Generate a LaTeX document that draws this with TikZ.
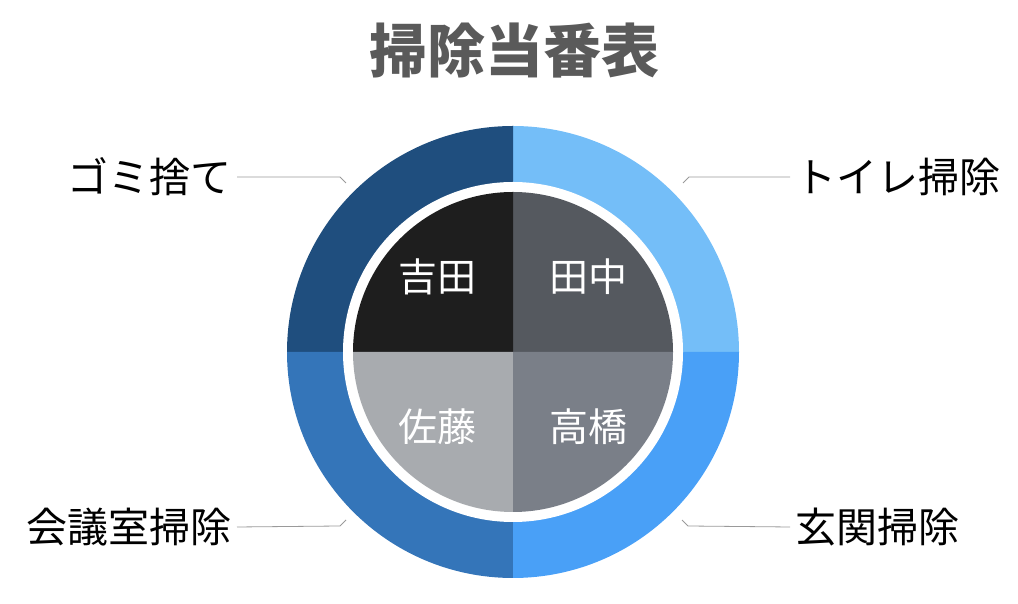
\documentclass[tikz,border=0pt]{standalone}
\usepackage{fontspec}
\setmainfont{Noto Sans CJK JP}
\definecolor{ringTL}{HTML}{1F4E7E}
\definecolor{ringTR}{HTML}{74BEF8}
\definecolor{ringBR}{HTML}{49A0F7}
\definecolor{ringBL}{HTML}{3475B9}
\definecolor{inTL}{HTML}{1E1E1E}
\definecolor{inTR}{HTML}{55595F}
\definecolor{inBR}{HTML}{7A7F88}
\definecolor{inBL}{HTML}{A8ABAF}
\definecolor{titlegray}{HTML}{5A5A5A}
\definecolor{leadgray}{HTML}{9A9A9A}
\begin{document}
\begin{tikzpicture}[x=1pt,y=1pt,
  lbl/.style={font=\fontsize{41}{41}\selectfont, inner sep=0pt, text=black},
  person/.style={font=\fontsize{39}{39}\selectfont, text=white, inner sep=0pt},
  leader/.style={draw=leadgray, line width=0.8pt}]
\useasboundingbox (0,0) rectangle (1018,604);
\coordinate (O) at (513,252);
% outer ring quadrants
\fill[ringTR] (O) -- ++(0:226) arc[start angle=0,end angle=90,radius=226] -- cycle;
\fill[ringTL] (O) -- ++(90:226) arc[start angle=90,end angle=180,radius=226] -- cycle;
\fill[ringBL] (O) -- ++(180:226) arc[start angle=180,end angle=270,radius=226] -- cycle;
\fill[ringBR] (O) -- ++(270:226) arc[start angle=270,end angle=360,radius=226] -- cycle;
\fill[white] (O) circle[radius=170];
% inner quadrants
\fill[inTR] (O) -- ++(0:160) arc[start angle=0,end angle=90,radius=160] -- cycle;
\fill[inTL] (O) -- ++(90:160) arc[start angle=90,end angle=180,radius=160] -- cycle;
\fill[inBL] (O) -- ++(180:160) arc[start angle=180,end angle=270,radius=160] -- cycle;
\fill[inBR] (O) -- ++(270:160) arc[start angle=270,end angle=360,radius=160] -- cycle;
% names
\node[person] (yoshida) at (437.5,327) {吉田};
\node[person] (tanaka) at (588.5,327) {田中};
\node[person] (sato) at (437.5,177) {佐藤};
\node[person] (takahashi) at (588.5,177) {高橋};
% title
\node[font=\fontsize{58}{58}\selectfont\bfseries, text=titlegray, inner sep=0pt] (title) at (514,553) {掃除当番表};
% labels
\node[lbl, anchor=east] (gomi) at (232,427) {ゴミ捨て};
\node[lbl, anchor=west] (toilet) at (795,427) {トイレ掃除};
\node[lbl, anchor=east] (kaigi) at (232,77) {会議室掃除};
\node[lbl, anchor=west] (genkan) at (795,77) {玄関掃除};
% leader lines
\coordinate (gomiB) at (340,427);
\coordinate (gomiE) at (346,421);
\coordinate (toiletB) at (689,427);
\coordinate (toiletE) at (683,421);
\coordinate (kaigiB) at (340,78);
\coordinate (kaigiE) at (346,84);
\coordinate (genkanB) at (688,78);
\coordinate (genkanE) at (682,84);
\draw[leader] ([xshift=5pt]gomi.east) -- (gomiB) -- (gomiE);
\draw[leader] ([xshift=-5pt]toilet.west) -- (toiletB) -- (toiletE);
\draw[leader] ([xshift=5pt]kaigi.east) -- (kaigiB) -- (kaigiE);
\draw[leader] ([xshift=-5pt]genkan.west) -- (genkanB) -- (genkanE);
\end{tikzpicture}
\end{document}
